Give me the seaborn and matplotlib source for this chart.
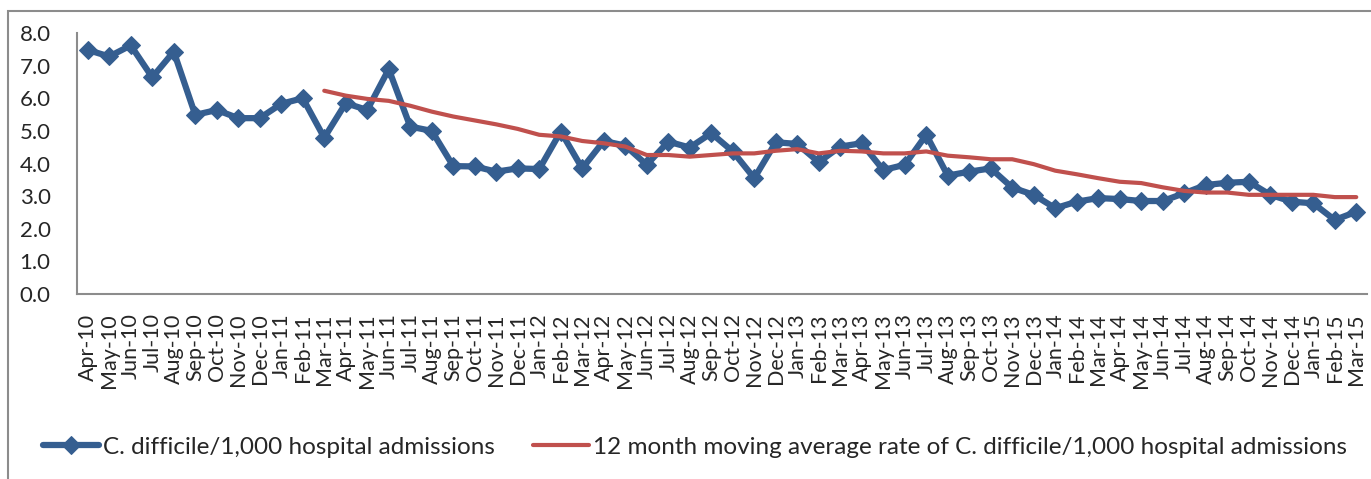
import matplotlib
matplotlib.use("Agg")
import matplotlib.pyplot as plt
import matplotlib.patches as mpatches
import seaborn as sns
import pandas as pd
import numpy as np

# month labels Apr-10 .. Mar-15
months = ["Apr-10", "May-10", "Jun-10", "Jul-10", "Aug-10", "Sep-10", "Oct-10", "Nov-10", "Dec-10",
          "Jan-11", "Feb-11", "Mar-11", "Apr-11", "May-11", "Jun-11", "Jul-11", "Aug-11", "Sep-11",
          "Oct-11", "Nov-11", "Dec-11", "Jan-12", "Feb-12", "Mar-12", "Apr-12", "May-12", "Jun-12",
          "Jul-12", "Aug-12", "Sep-12", "Oct-12", "Nov-12", "Dec-12", "Jan-13", "Feb-13", "Mar-13",
          "Apr-13", "May-13", "Jun-13", "Jul-13", "Aug-13", "Sep-13", "Oct-13", "Nov-13", "Dec-13",
          "Jan-14", "Feb-14", "Mar-14", "Apr-14", "May-14", "Jun-14", "Jul-14", "Aug-14", "Sep-14",
          "Oct-14", "Nov-14", "Dec-14", "Jan-15", "Feb-15", "Mar-15"]

rate = [7.48, 7.28, 7.62, 6.64, 7.43, 5.49, 5.64, 5.39, 5.39,
        5.83, 6.00, 4.79, 5.85, 5.64, 6.89, 5.13, 5.00, 3.92,
        3.91, 3.75, 3.85, 3.83, 4.98, 3.85, 4.69, 4.55, 3.96,
        4.67, 4.49, 4.93, 4.37, 3.55, 4.65, 4.60, 4.04, 4.52,
        4.62, 3.80, 3.96, 4.88, 3.63, 3.75, 3.85, 3.26, 3.04,
        2.63, 2.83, 2.94, 2.91, 2.85, 2.85, 3.09, 3.34, 3.41,
        3.44, 3.04, 2.83, 2.78, 2.27, 2.52]

# 12 month moving average, starts at Mar-11
ma_start = "Mar-11"
moving_avg = [6.23, 6.08, 5.98, 5.92, 5.77, 5.59, 5.44, 5.32, 5.20, 5.06,
              4.88, 4.83, 4.69, 4.62, 4.52, 4.26, 4.26, 4.21, 4.26, 4.31, 4.31, 4.39,
              4.44, 4.31, 4.39, 4.37, 4.31, 4.31, 4.37, 4.24, 4.19, 4.13, 4.13, 3.98,
              3.78, 3.67, 3.55, 3.44, 3.40, 3.27, 3.16, 3.11, 3.11, 3.04, 3.04, 3.04,
              3.04, 2.97, 2.97]

blue = "#355E90"
red = "#C0504D"

sns.set_style("white")
plt.rcParams['font.family'] = ['Lato', 'DejaVu Sans']

fig = plt.figure(figsize=(13.71, 4.79), dpi=100)
ax = fig.add_axes([77/1371, 1-294/479, (1367-77)/1371, (294-33)/479])

pos = np.arange(len(months))
df1 = pd.DataFrame({"pos": pos, "rate": rate})
k = months.index(ma_start)
df2 = pd.DataFrame({"pos": pos[k:k+len(moving_avg)], "ma": moving_avg})

sns.lineplot(data=df1, x="pos", y="rate", ax=ax, color=blue, lw=4.5, marker="D",
             markersize=9, markeredgecolor=blue, sort=False,
             label="C. difficile/1,000 hospital admissions", legend=False)
sns.lineplot(data=df2, x="pos", y="ma", ax=ax, color=red, lw=3, sort=False,
             label="12 month moving average rate of C. difficile/1,000 hospital admissions", legend=False)

ax.set_xlim(-0.5, len(months)-0.5)
ax.set_ylim(0, 8)
ax.set_yticks(np.arange(0, 8.01, 1.0))
ax.set_yticklabels([f"{v:.1f}" for v in np.arange(0, 8.01, 1.0)], fontsize=16)
ax.set_xticks(pos)
ax.set_xticklabels(months, rotation=90, fontsize=15.5, va="top", ha="center")
ax.tick_params(axis="x", length=0, pad=14)
ax.tick_params(axis="y", length=0, pad=19)
ax.set_xlabel("")
ax.set_ylabel("")
for s in ["top", "right"]:
    ax.spines[s].set_visible(False)
for s in ["left", "bottom"]:
    ax.spines[s].set_color("#8c8c8c")
    ax.spines[s].set_linewidth(1.5)

handles, labels = ax.get_legend_handles_labels()
fig.legend(handles, labels, loc="center", bbox_to_anchor=(695/1371, 1-447/479), ncol=2,
           frameon=False, fontsize=17.5, handlelength=2.3, columnspacing=1.6, handletextpad=0.15)

# chart area border
fig.patches.append(mpatches.Rectangle((8/1371, -0.05), 1.2, (479-11)/479+0.05, transform=fig.transFigure,
                                      fill=False, edgecolor="#8c8c8c", lw=1.5))

fig.savefig("out.png", dpi=100)
